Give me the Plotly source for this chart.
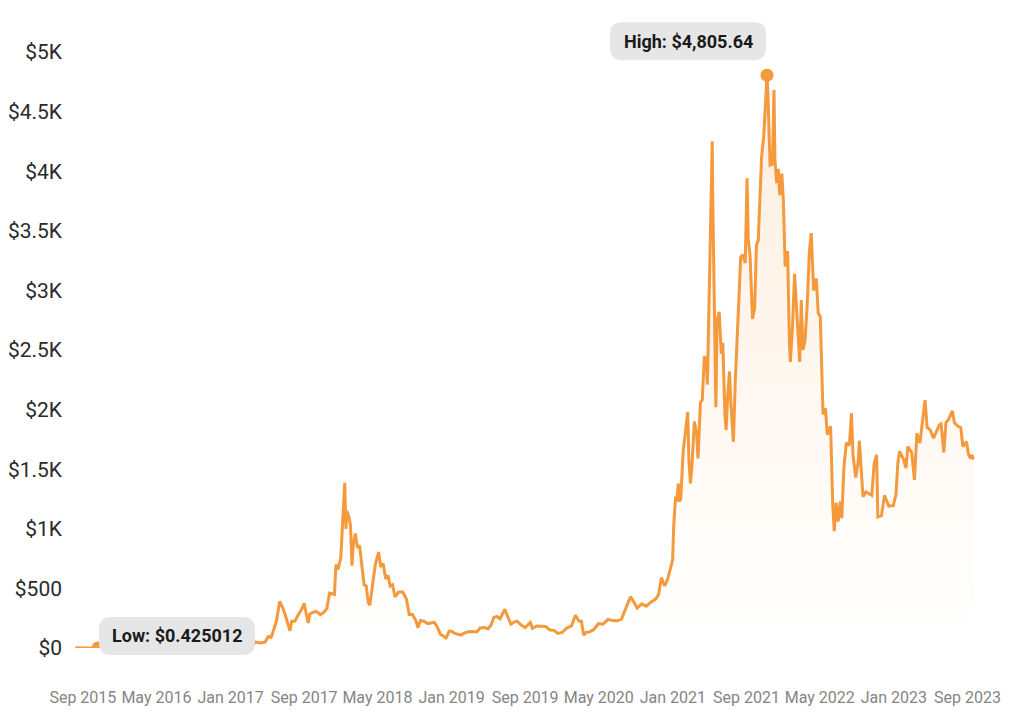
import plotly.graph_objects as go

# ---- data (approximate) ----
dates = [
    "2015-08-07", "2015-08-15", "2015-08-25", "2015-09-05", "2015-09-20", "2015-10-05", "2015-10-21",
    "2015-11-01", "2015-11-15", "2015-12-01", "2015-12-20",
    "2016-01-10", "2016-01-31", "2016-02-15", "2016-03-01", "2016-03-13", "2016-03-31", "2016-04-15",
    "2016-05-01", "2016-05-20", "2016-06-05", "2016-06-17", "2016-06-20", "2016-07-10", "2016-08-01",
    "2016-08-20", "2016-09-10", "2016-10-01", "2016-10-20", "2016-11-10", "2016-12-01", "2016-12-20",
    "2017-01-10", "2017-02-01", "2017-02-20", "2017-03-05", "2017-03-15", "2017-03-25", "2017-04-10",
    "2017-04-25", "2017-05-05", "2017-05-15", "2017-05-25", "2017-06-01", "2017-06-12", "2017-06-22",
    "2017-07-01", "2017-07-16", "2017-07-22", "2017-08-01", "2017-08-15", "2017-08-25", "2017-09-01",
    "2017-09-14", "2017-09-20", "2017-10-01", "2017-10-12", "2017-10-25", "2017-11-05", "2017-11-15",
    "2017-11-24", "2017-12-01", "2017-12-10", "2017-12-15", "2017-12-22", "2017-12-31",
    "2018-01-04", "2018-01-09", "2018-01-13", "2018-01-17", "2018-01-20", "2018-01-27", "2018-02-01",
    "2018-02-06", "2018-02-10", "2018-02-17", "2018-02-24", "2018-03-03", "2018-03-10", "2018-03-18",
    "2018-03-25", "2018-04-01", "2018-04-06", "2018-04-14", "2018-04-24", "2018-05-05", "2018-05-12",
    "2018-05-20", "2018-05-28", "2018-06-05", "2018-06-12", "2018-06-20", "2018-06-28", "2018-07-10",
    "2018-07-24", "2018-08-05", "2018-08-14", "2018-08-25", "2018-09-05", "2018-09-12", "2018-09-20",
    "2018-10-01", "2018-10-15", "2018-11-05", "2018-11-14", "2018-11-25", "2018-12-07", "2018-12-14",
    "2018-12-24",
    "2019-01-01", "2019-01-10", "2019-01-20", "2019-02-01", "2019-02-10", "2019-02-24", "2019-03-10",
    "2019-03-25", "2019-04-05", "2019-04-20", "2019-05-01", "2019-05-12", "2019-05-20", "2019-05-30",
    "2019-06-10", "2019-06-26", "2019-07-01", "2019-07-16", "2019-07-25", "2019-08-05", "2019-08-20",
    "2019-09-01", "2019-09-18", "2019-09-25", "2019-10-10", "2019-10-26", "2019-11-08", "2019-11-22",
    "2019-12-05", "2019-12-18",
    "2020-01-01", "2020-01-15", "2020-02-01", "2020-02-14", "2020-02-26", "2020-03-05", "2020-03-12",
    "2020-03-20", "2020-04-01", "2020-04-15", "2020-04-30", "2020-05-15", "2020-06-01", "2020-06-15",
    "2020-07-01", "2020-07-15", "2020-07-28", "2020-08-14", "2020-08-25", "2020-09-05", "2020-09-20",
    "2020-10-05", "2020-10-20", "2020-11-05", "2020-11-15", "2020-11-24", "2020-12-05", "2020-12-15",
    "2020-12-31",
    "2021-01-04", "2021-01-10", "2021-01-14", "2021-01-19", "2021-01-22", "2021-01-27", "2021-02-04",
    "2021-02-10", "2021-02-19", "2021-02-23", "2021-02-28", "2021-03-05", "2021-03-13", "2021-03-20",
    "2021-03-25", "2021-04-02", "2021-04-08", "2021-04-15", "2021-04-22", "2021-04-25", "2021-05-01",
    "2021-05-06", "2021-05-11", "2021-05-13", "2021-05-19", "2021-05-23", "2021-05-27", "2021-06-03",
    "2021-06-10", "2021-06-15", "2021-06-22", "2021-06-26", "2021-07-01", "2021-07-07", "2021-07-12",
    "2021-07-20", "2021-07-26", "2021-07-31", "2021-08-05", "2021-08-13", "2021-08-20", "2021-08-28",
    "2021-09-03", "2021-09-07", "2021-09-13", "2021-09-21", "2021-09-28", "2021-10-04", "2021-10-10",
    "2021-10-16", "2021-10-21", "2021-10-28", "2021-11-02", "2021-11-08", "2021-11-11", "2021-11-18",
    "2021-11-26", "2021-12-01", "2021-12-04", "2021-12-10", "2021-12-15", "2021-12-20", "2021-12-27",
    "2022-01-01", "2022-01-07", "2022-01-15", "2022-01-21", "2022-01-24", "2022-01-31", "2022-02-07",
    "2022-02-13", "2022-02-19", "2022-02-24", "2022-03-01", "2022-03-07", "2022-03-14", "2022-03-21",
    "2022-03-28", "2022-04-03", "2022-04-11", "2022-04-20", "2022-04-26", "2022-05-03", "2022-05-09",
    "2022-05-12", "2022-05-20", "2022-05-26", "2022-06-06", "2022-06-13", "2022-06-18", "2022-06-24",
    "2022-07-01", "2022-07-08", "2022-07-13", "2022-07-20", "2022-07-28", "2022-08-07", "2022-08-14",
    "2022-08-19", "2022-08-28", "2022-09-05", "2022-09-09", "2022-09-14", "2022-09-21", "2022-10-01",
    "2022-10-13", "2022-10-20", "2022-10-28", "2022-11-05", "2022-11-09", "2022-11-21", "2022-12-01",
    "2022-12-15", "2022-12-30",
    "2023-01-08", "2023-01-14", "2023-01-20", "2023-02-01", "2023-02-10", "2023-02-16", "2023-03-01",
    "2023-03-10", "2023-03-18", "2023-03-28", "2023-04-05", "2023-04-14", "2023-04-21", "2023-05-01",
    "2023-05-12", "2023-05-22", "2023-05-31", "2023-06-06", "2023-06-15", "2023-06-22", "2023-07-01",
    "2023-07-13", "2023-07-20", "2023-08-01", "2023-08-10", "2023-08-17", "2023-08-29", "2023-09-04",
    "2023-09-11", "2023-09-16", "2023-09-20",
]

prices = [
    2.8, 1.6, 1.2, 1.3, 0.9, 0.65, 0.425012,
    1.0, 0.95, 0.87, 0.85,
    1.0, 2.2, 5.2, 7.5, 14.5, 11.4, 8.1,
    8.9, 12.8, 14, 20.5, 11, 11.5, 10.5,
    11, 12, 13.2, 12, 10.8, 8.4, 7.6,
    10, 10.8, 12.7, 19, 28, 50, 43,
    50, 95, 90, 170, 220, 390, 340,
    275, 145, 225, 225, 290, 330, 375,
    210, 285, 300, 305, 280, 300, 330,
    460, 455, 450, 700, 660, 760,
    950, 1220, 1385, 1000, 1150, 1100, 1030,
    690, 860, 960, 840, 860, 720, 530,
    520, 380, 360, 500, 700, 805, 680,
    710, 580, 610, 520, 530, 430, 470,
    470, 410, 280, 280, 230, 170, 230,
    225, 205, 215, 180, 115, 92, 85,
    140,
    140, 125, 118, 108, 122, 137, 138,
    135, 168, 172, 160, 195, 255, 265,
    245, 325, 290, 200, 215, 225, 190,
    172, 215, 165, 185, 180, 180, 150,
    148, 122,
    130, 165, 185, 275, 225, 225, 108,
    130, 135, 155, 205, 200, 240, 230,
    228, 240, 320, 430, 385, 335, 370,
    350, 385, 410, 450, 590, 520, 580,
    737,
    1040, 1270, 1230, 1380, 1230, 1250, 1650,
    1780, 1980, 1570, 1380, 1530, 1900, 1810,
    1590, 2060, 2080, 2450, 2360, 2210, 2900,
    3500, 4250, 3720, 2440, 2020, 2750, 2820,
    2470, 2560, 1950, 1830, 2120, 2320, 2040,
    1730, 2230, 2530, 2820, 3280, 3300, 3230,
    3940, 3430, 3290, 2760, 2850, 3380, 3420,
    3830, 4120, 4290, 4590, 4805.64, 4650, 4050,
    4060, 4680, 4100, 3900, 4020, 3800, 3980,
    3750, 3200, 3330, 2560, 2400, 2690, 3140,
    2870, 2620, 2400, 2920, 2500, 2590, 2900,
    3330, 3480, 3000, 3100, 2810, 2780, 2240,
    1960, 2010, 1790, 1860, 1210, 980, 1220,
    1060, 1230, 1090, 1520, 1720, 1700, 1970,
    1620, 1430, 1560, 1740, 1570, 1270, 1310,
    1290, 1280, 1550, 1620, 1100, 1110, 1280,
    1190, 1195,
    1290, 1550, 1650, 1590, 1510, 1690, 1640,
    1410, 1800, 1720, 1900, 2080, 1850, 1830,
    1760, 1820, 1870, 1880, 1640, 1890, 1920,
    1990, 1890, 1860, 1850, 1690, 1730, 1630,
    1590, 1620, 1580,
]

tick_dates = ["2015-09-01", "2016-05-01", "2017-01-01", "2017-09-01", "2018-05-01",
              "2019-01-01", "2019-09-01", "2020-05-01", "2021-01-01", "2021-09-01",
              "2022-05-01", "2023-01-01", "2023-09-01"]
tick_labels = ["Sep 2015", "May 2016", "Jan 2017", "Sep 2017", "May 2018", "Jan 2019",
               "Sep 2019", "May 2020", "Jan 2021", "Sep 2021", "May 2022", "Jan 2023", "Sep 2023"]
y_max = 5000
y_ticks = [0, 500, 1000, 1500, 2000, 2500, 3000, 3500, 4000, 4500, 5000]
y_labels = ["$0", "$500", "$1K", "$1.5K", "$2K", "$2.5K", "$3K", "$3.5K", "$4K", "$4.5K", "$5K"]

# ---- styling ----
ORANGE = "#F5993D"
BOX = "#E6E6E6"

hi = max(range(len(prices)), key=prices.__getitem__)
lo = min(range(len(prices)), key=prices.__getitem__)


def rounded(x0, y0, x1, y1, r):
    return (f"M {x0 + r},{y0} L {x1 - r},{y0} Q {x1},{y0} {x1},{y0 + r} "
            f"L {x1},{y1 - r} Q {x1},{y1} {x1 - r},{y1} L {x0 + r},{y1} "
            f"Q {x0},{y1} {x0},{y1 - r} L {x0},{y0 + r} Q {x0},{y0} {x0 + r},{y0} Z")


fig = go.Figure()
fig.add_trace(go.Scatter(
    x=dates, y=prices, mode="lines",
    line=dict(color=ORANGE, width=3),
    fill="tozeroy",
    fillgradient=dict(type="vertical", start=0, stop=y_max,
                      colorscale=[[0, "rgba(245,153,61,0.0)"], [1, "rgba(245,153,61,0.17)"]]),
    hoverinfo="skip",
))
fig.add_trace(go.Scatter(
    x=[dates[hi], dates[lo]], y=[prices[hi], prices[lo]], mode="markers",
    marker=dict(color=ORANGE, size=13), hoverinfo="skip",
))

# label boxes (y anchored in paper units so they are not clipped by the plot area)
shapes = [
    dict(type="path", xref="x", yref="paper", xsizemode="pixel", ysizemode="pixel",
         xanchor=dates[hi], yanchor=prices[hi] / y_max,
         path=rounded(-157, 15, -1, 53, 12), fillcolor=BOX, line=dict(width=0), layer="above"),
    dict(type="path", xref="x", yref="paper", xsizemode="pixel", ysizemode="pixel",
         xanchor=dates[lo], yanchor=prices[lo] / y_max,
         path=rounded(1, -7, 157, 31, 12), fillcolor=BOX, line=dict(width=0), layer="above"),
]

annotations = [
    dict(x=dates[hi], y=prices[hi], xref="x", yref="y", showarrow=False,
         text=f"<b>High: ${prices[hi]:,.2f}</b>", xshift=-79, yshift=34,
         font=dict(family="Roboto", size=18, color="#1a1a1a")),
    dict(x=dates[lo], y=prices[lo], xref="x", yref="y", showarrow=False,
         text=f"<b>Low: ${prices[lo]}</b>", xshift=79, yshift=12,
         font=dict(family="Roboto", size=18, color="#1a1a1a")),
]

fig.update_layout(
    width=1024, height=723,
    margin=dict(l=75, r=49, t=52, b=75),
    paper_bgcolor="white", plot_bgcolor="white",
    showlegend=False,
    shapes=shapes, annotations=annotations,
    font=dict(family="Roboto"),
    xaxis=dict(
        type="date", range=["2015-08-06", "2023-09-26"],
        tickvals=tick_dates, ticktext=tick_labels,
        showgrid=False, zeroline=False, showline=False,
        ticklabelstandoff=38, automargin=False,
        tickfont=dict(family="Roboto", size=16, color="#858585"),
    ),
    yaxis=dict(
        range=[0, y_max], tickvals=y_ticks, ticktext=y_labels,
        showgrid=False, zeroline=False, showline=False,
        ticklabelstandoff=12, automargin=False,
        tickfont=dict(family="Roboto", size=21, color="#2a2a2a"),
    ),
    hovermode=False,
)

fig.write_html("out.html", config={"displayModeBar": False})

# remove the default page margin so the figure fills the window exactly
with open("out.html", "r", encoding="utf-8") as f:
    html = f.read()
html = html.replace("<body>", '<body style="margin:0;overflow:hidden">', 1)
with open("out.html", "w", encoding="utf-8") as f:
    f.write(html)
